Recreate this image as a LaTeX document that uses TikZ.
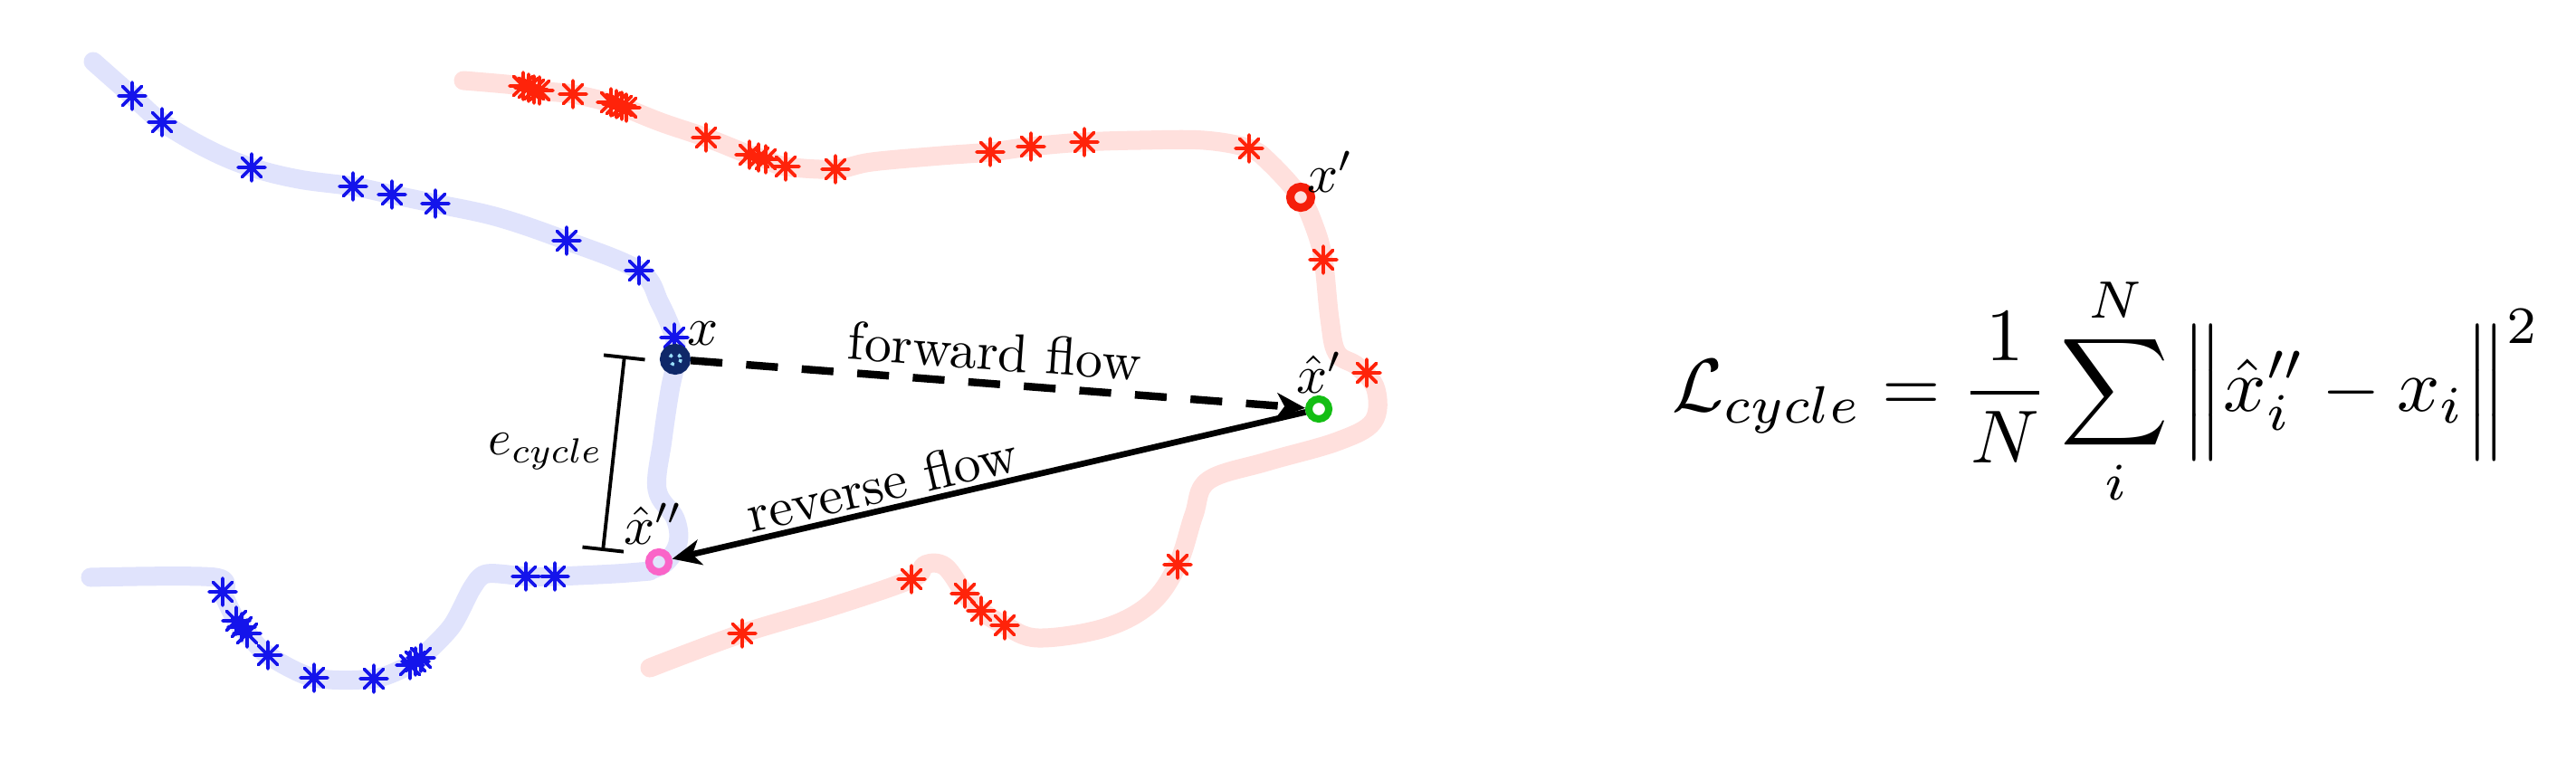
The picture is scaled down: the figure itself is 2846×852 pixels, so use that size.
\documentclass[tikz,border=0pt]{standalone}
\usetikzlibrary{arrows.meta}
\definecolor{bband}{RGB}{224,227,252}
\definecolor{rband}{RGB}{255,224,221}
\definecolor{bstar}{RGB}{20,20,235}
\definecolor{rstar}{RGB}{255,35,10}
\definecolor{navyx}{RGB}{15,40,105}
\definecolor{pinkx}{RGB}{250,100,200}
\definecolor{greenx}{RGB}{20,190,20}
\definecolor{redx}{RGB}{245,30,10}
\tikzset{
 ast/.pic={\draw[line width=1.1pt,line cap=round] (-15,0)--(15,0) (0,-15)--(0,15) (-10.6,-10.6)--(10.6,10.6) (-10.6,10.6)--(10.6,-10.6);},
 band/.style={line width=0.21cm,line cap=round,line join=round},
 ring/.style={circle,draw,line width=2.3pt,minimum size=0.22cm,inner sep=0pt},
 lab/.style={scale=1.7,inner sep=1pt},
 tip/.style={-{Stealth[length=9pt,width=8pt,inset=2.5pt]}},
}
\begin{document}
\begin{tikzpicture}[x=0.01cm,y=-0.01cm]
\fill[white] (0,0) rectangle (2846,852);
\useasboundingbox (0,0) rectangle (2846,852);
% blue trajectory
\draw[band,bband] plot[smooth,tension=0.6] coordinates {(103,68) (146,106) (179,135) (230,165) (278,185) (330,198) (390,206) (433,215) (481,225) (550,240) (626,266) (706,299) (729,335) (745,373) (747,397) (740,432) (732,486) (726,541) (746,573) (749,600) (735,622) (715,631)};
\draw[band,bband] plot[smooth,tension=0.5] coordinates {(100,638) (238,638) (248,660) (261,686) (273,700) (296,724) (347,749) (413,750) (453,735) (465,727) (499,692) (522,649) (538,634) (581,637) (613,637) (680,634) (718,631)};
% red trajectory
\draw[band,rband] plot[smooth,tension=0.6] coordinates {(512,89) (578,95) (593,100) (633,104) (677,114) (688,118) (730,135) (780,152) (828,171) (846,176) (868,184) (923,187) (963,179) (1040,172) (1094,168) (1139,162) (1198,157) (1260,155) (1330,155) (1380,164) (1403,180) (1436,217) (1452,250) (1462,287) (1469,352) (1477,390) (1500,405) (1520,430) (1517,466) (1477,488) (1400,510) (1335,531) (1319,569) (1301,624) (1271,667) (1220,694) (1147,705) (1110,691) (1084,675) (1066,656) (1044,626) (1022,624) (1007,640) (920,670) (820,700) (718,738)};
% stars
\foreach \p in {(146,106),(179,135),(278,185),(390,206),(433,215),(481,225),(626,266),(706,299),(745,373),(246,654),(261,686),(267,693),(273,700),(296,724),(347,749),(413,750),(453,735),(459,731),(465,727),(581,637),(613,637)}
  \pic[color=bstar] at \p {ast};
\foreach \p in {(578,95),(584,97),(590,99),(596,100),(633,104),(675,113),(681,115),(687,117),(692,119),(780,152),(828,171),(838,174),(846,176),(868,184),(923,187),(1094,168),(1139,162),(1198,157),(1380,164),(1462,287),(1510,412),(1301,624),(1110,691),(1084,675),(1066,656),(1007,640),(820,700)}
  \pic[color=rstar] at \p {ast};
% points
\node[ring,draw=navyx,fill=navyx,minimum size=0.26cm] (x) at (746,397) {};
\draw[cyan!40,dotted,line width=1pt] (x.center) circle (6);
\node[ring,draw=redx,minimum size=0.23cm,line width=2.6pt] (xp) at (1437,218) {};
\node[ring,draw=greenx] (xh) at (1457,452) {};
\node[ring,draw=pinkx] (xpp) at (728,621) {};
% flows
\draw[line width=2.4pt,dash pattern=on 10pt off 7.5pt,tip] (x) -- (xh);
\draw[line width=1.9pt,tip] (xh) -- (xpp);
% cycle error bar
\coordinate (et) at (690,393);
\coordinate (eb) at (666,609);
\draw[line width=1.1pt,{Bar[width=13pt]}-{Bar[width=13pt]}] (et) -- (eb);
% labels
\node[lab] (lx) at (777,369) {$x$};
\node[lab] (lxp) at (1470,190) {$x'$};
\node[lab] (lxh) at (1458,412) {$\hat{x}'$};
\node[lab] (lxpp) at (722,579) {$\hat{x}''$};
\node[lab,scale=0.92] (le) at (603,499) {$e_{cycle}$};
\node[lab,rotate=-4.2] (lf) at (1099,388) {forward flow};
\node[lab,rotate=13.1] (lr) at (974,534) {reverse flow};
% loss
\node[scale=2.36] (loss) at (2327,432) {$\displaystyle \mathcal{L}_{cycle} = \frac{1}{N}\sum_{i}^{N}\Big\|\hat{x}_i''-x_i\Big\|^2$};
\end{tikzpicture}
\end{document}
